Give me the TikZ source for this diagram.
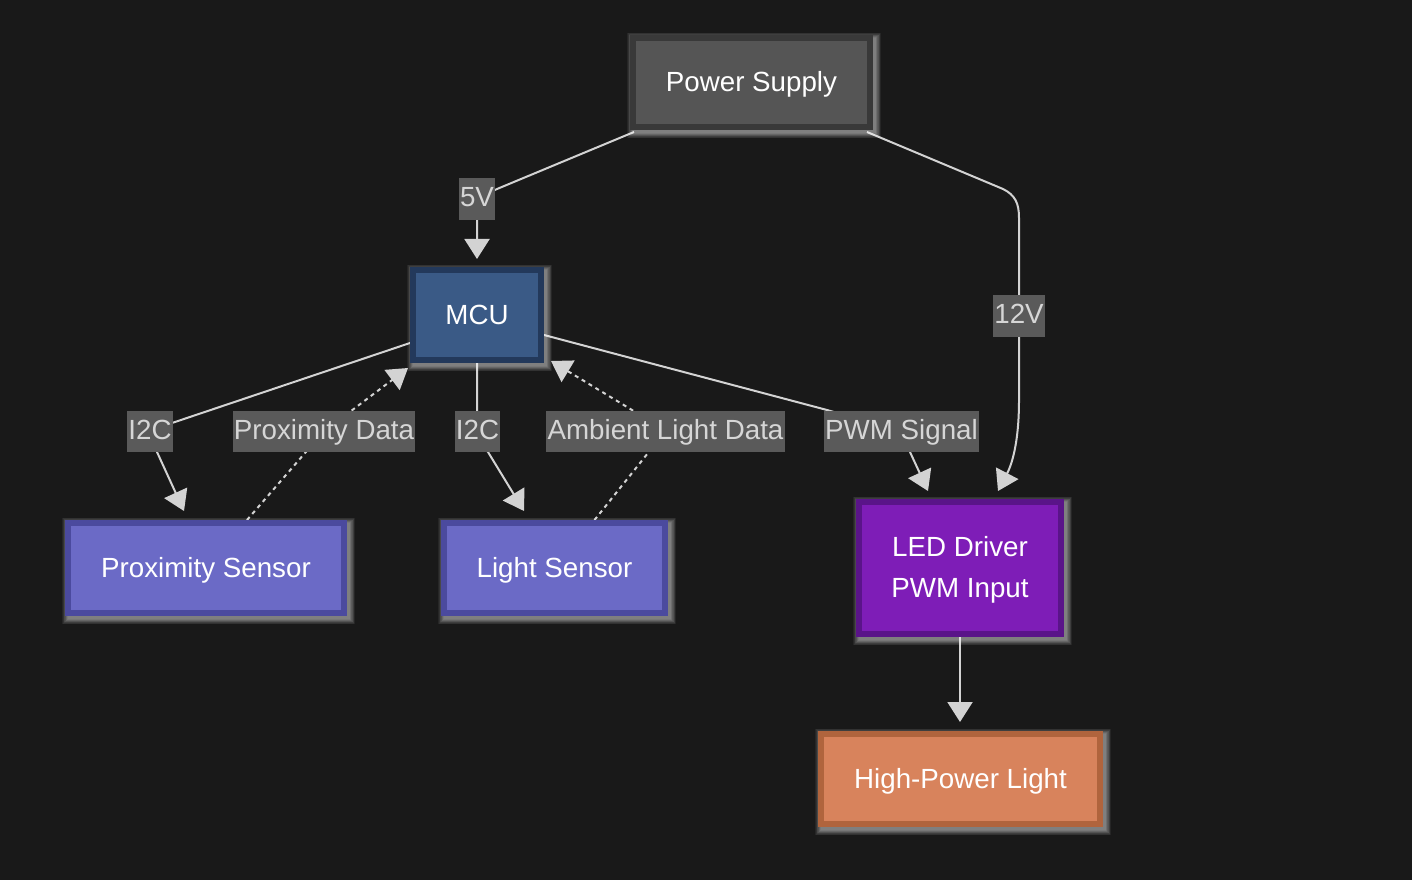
\documentclass[tikz,border=0pt]{standalone}
\usepackage{fontspec}
\setmainfont{Liberation Sans}
\usetikzlibrary{arrows.meta,calc}
\definecolor{bgc}{HTML}{191919}
\definecolor{edgec}{HTML}{D3D3D3}
\definecolor{lblfill}{HTML}{5A5A5A}
\definecolor{lbltext}{HTML}{D6D6D6}
\definecolor{psfill}{HTML}{555555}
\definecolor{psdraw}{HTML}{393939}
\definecolor{mcufill}{HTML}{3A5A86}
\definecolor{mcudraw}{HTML}{23395B}
\definecolor{senfill}{HTML}{6B6AC6}
\definecolor{sendraw}{HTML}{4B4A9E}
\definecolor{ledfill}{HTML}{7E1DB7}
\definecolor{leddraw}{HTML}{5A1489}
\definecolor{hplfill}{HTML}{D8835C}
\definecolor{hpldraw}{HTML}{B0643D}
\pgfdeclarelayer{bglayer}
\pgfdeclarelayer{edgelayer}
\pgfsetlayers{bglayer,edgelayer,main}
\begin{document}
\begin{tikzpicture}[x=0.75pt,y=-0.75pt,
  gl/.style={preaction={draw=white,draw opacity=0.06,line width=#1,
    transform canvas={shift={(2.1pt,-2.3pt)}}}},
  glow/.style={gl=12.5pt,gl=11.5pt,gl=10.5pt,gl=9.5pt,gl=8.6pt,gl=7.8pt,gl=7pt,gl=6.2pt,gl=5.4pt,gl=4.6pt},
  box/.style={glow,rectangle,line width=4.5pt,inner sep=0pt,text=white,align=center,
    font=\fontsize{20.8pt}{30.5pt}\selectfont},
  one/.style={text height=16pt,text depth=2pt},
  lbl/.style={rectangle,fill=lblfill,text=lbltext,inner xsep=1pt,inner ysep=0pt,
    minimum height=31pt,text height=15pt,text depth=3pt,font=\fontsize{20.8pt}{25pt}\selectfont},
  conn/.style={draw=edgec,line width=1.5pt,-{Triangle[length=15pt,width=18.75pt]}},
  dotconn/.style={conn,dash pattern=on 3pt off 3pt}]
\begin{pgfonlayer}{bglayer}
\fill[bgc] (0,0) rectangle (1412,880);
\end{pgfonlayer}
\useasboundingbox (0,0) rectangle (1412,880);

% nodes
\node[box,one,fill=psfill,draw=psdraw,minimum width=177.75pt,minimum height=66.75pt] (ps) at (751.5,82.5) {Power Supply};
\node[box,one,fill=mcufill,draw=mcudraw,minimum width=96pt,minimum height=67.5pt] (mcu) at (477,315) {MCU};
\node[box,one,fill=senfill,draw=sendraw,minimum width=207pt,minimum height=67.5pt] (prox) at (206,568) {Proximity Sensor};
\node[box,one,fill=senfill,draw=sendraw,minimum width=165.75pt,minimum height=67.5pt] (light) at (554.5,568) {Light Sensor};
\node[box,fill=ledfill,draw=leddraw,minimum width=151.5pt,minimum height=99pt] (led) at (960,568) {\rule{0pt}{18pt}LED Driver\\PWM Input};
\node[box,one,fill=hplfill,draw=hpldraw,minimum width=209.25pt,minimum height=67.5pt] (hpl) at (960.5,779) {High-Power Light};

% labels
\node[lbl] (l5v) at (477,199) {5V};
\node[lbl] (l12v) at (1019,316) {12V};
\node[lbl] (li2ca) at (150,431.5) {I2C};
\node[lbl] (lprox) at (324,431.5) {Proximity Data};
\node[lbl] (li2cb) at (477.5,431.5) {I2C};
\node[lbl] (lamb) at (665.5,431.5) {Ambient Light Data};
\node[lbl] (lpwm) at (901.5,431.5) {PWM Signal};

\begin{pgfonlayer}{edgelayer}
% Power Supply -> MCU
\draw[conn] ($(ps.south west)+(4,2)$) -- (497,189) .. controls (480,197) and (477,205) .. (l5v.center)
  -- ($(mcu.north)+(0,-8)$);
% Power Supply -> LED Driver
\draw[conn] ($(ps.south east)+(-6,2)$) -- (1003,189) .. controls (1015,195) and (1019,203) .. (1019,218)
  -- (l12v.center) -- (1019,400) .. controls (1019,445) and (1011,466) .. ($(led.north)+(38,-8)$);
% MCU -> Proximity Sensor
\draw[conn] ($(mcu.south west)+(0,-20)$) -- (172,423) .. controls (150,431) and (151,440) .. (157,452)
  -- ($(prox.north)+(-22,-9)$);
% Proximity Sensor -> MCU
\draw[dotconn] ($(prox.north)+(41,0)$) -- (305,453) -- (lprox.center) -- (355,408)
  -- ($(mcu.south west)+(-2,5)$);
% MCU -> Light Sensor
\draw[conn] (mcu.south) -- (477,415) .. controls (478,440) and (482,445) .. (488,452)
  -- ($(light.north)+(-30.5,-9)$);
% Light Sensor -> MCU
\draw[dotconn] ($(light.north)+(40,0)$) -- (648,453) -- (lamb.center) -- (632,410)
  -- ($(mcu.south east)+(7,-2)$);
% MCU -> LED Driver
\draw[conn] ($(mcu.east)+(0,20)$) -- (827,410) -- (lpwm.center) -- (910,452)
  -- ($(led.north)+(-32,-8)$);
% LED Driver -> High-Power Light
\draw[conn] (led.south) -- ($(hpl.north)+(-0.5,-9)$);
\end{pgfonlayer}
\end{tikzpicture}
\end{document}
